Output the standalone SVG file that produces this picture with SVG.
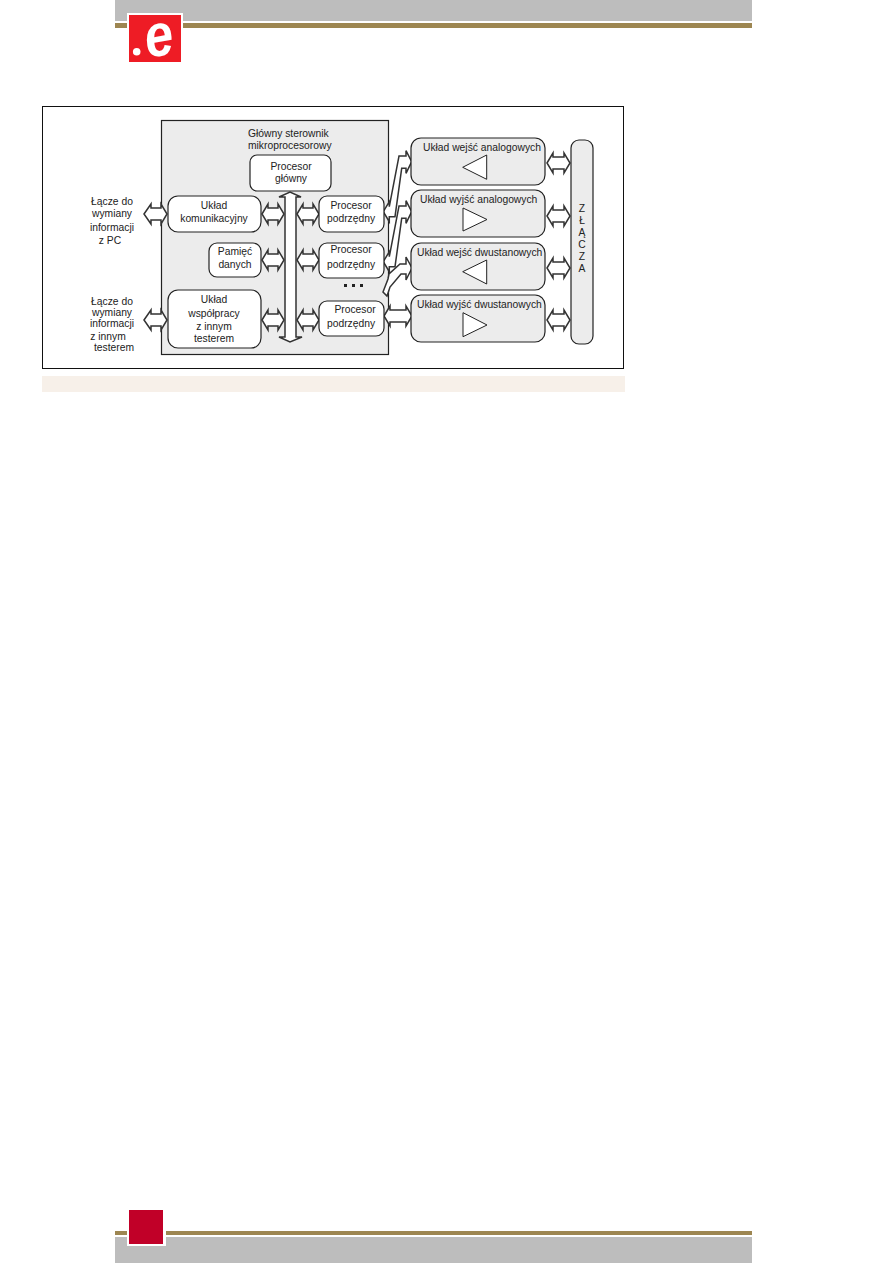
<svg xmlns="http://www.w3.org/2000/svg" width="893" height="1263" viewBox="0 0 893 1263">
<style>
text{font-family:"Liberation Sans",Arial,sans-serif;font-size:10.3px;fill:#222;text-anchor:middle}
.s{text-anchor:start}
.n{fill:#fff;stroke:#222;stroke-width:1.2}
.g{fill:#ececec;stroke:#222;stroke-width:1.2}
.a{fill:#fff;stroke:#333;stroke-width:1.5}
.t{fill:#fff;stroke:#222;stroke-width:1}
.gray{fill:#bdbdbd}.gold{fill:#9d8651}
</style>
<rect width="893" height="1263" fill="#fff"/>
<g id="header">
<rect class="gray" x="115" y="0" width="637" height="21"/>
<rect class="gold" x="115" y="23" width="637" height="5"/>
<rect x="127" y="13" width="56" height="49" fill="#fff"/>
<rect x="129" y="15" width="52" height="47" fill="#ee1c25"/>
<circle cx="136.7" cy="51.7" r="3.8" fill="#fff"/>
<text transform="translate(148,58) rotate(-10) scale(.85,1)" style="font-size:60px;font-weight:bold;font-style:italic;fill:#fff;text-anchor:start">e</text>
</g>
<g id="footer">
<rect class="gold" x="115" y="1231" width="637" height="4"/>
<rect class="gray" x="115" y="1237" width="637" height="26"/>
<rect x="127" y="1208" width="39" height="38" fill="#fff"/>
<rect x="129" y="1210" width="34" height="34" fill="#c10028"/>
</g>
<rect id="frame" x="42.5" y="106.5" width="581" height="262" fill="#fff" stroke="#111" stroke-width="1"/>
<rect id="caption-bar" x="42" y="376" width="583" height="16" fill="#f7f0e9"/>
<g id="panel">
<rect class="g" x="161.5" y="120.5" width="227" height="234"/>
<text class="s" x="248" y="137">Główny sterownik</text>
<text class="s" x="248" y="149">mikroprocesorowy</text>
</g>
<g id="connectors">
<polygon class="a" points="279,197 290,192 301,197 296,197 296,337 302,337 290,342 279,337 285,337 285,197"/>
<polygon class="a" points="144,214 151,204 151,208 161,208 161,204 167,214 161,224 161,220 151,220 151,224"/>
<polygon class="a" points="262,214 268,204 268,208 278,208 278,204 284,214 278,224 278,220 268,220 268,224"/>
<polygon class="a" points="297,214 303,204 303,208 313,208 313,204 319,214 313,224 313,220 303,220 303,224"/>
<polygon class="a" points="262,260 268,250 268,254 278,254 278,250 284,260 278,270 278,266 268,266 268,270"/>
<polygon class="a" points="297,260 303,250 303,254 313,254 313,250 319,260 313,270 313,266 303,266 303,270"/>
<polygon class="a" points="144,320 151,310 151,314 161,314 161,310 167,320 161,330 161,326 151,326 151,330"/>
<polygon class="a" points="262,320 268,310 268,314 278,314 278,310 284,320 278,330 278,326 268,326 268,330"/>
<polygon class="a" points="297,320 303,310 303,314 313,314 313,310 319,320 313,330 313,326 303,326 303,330"/>
<polygon class="a" points="384,316 390,306 390,310 406,310 406,306 412,316 406,326 406,322 390,322 390,326"/>
<polygon class="a" points="547,163 553,153 553,157 564,157 564,153 570,163 564,173 564,169 553,169 553,173"/>
<polygon class="a" points="547,216 553,206 553,210 564,210 564,206 570,216 564,226 564,222 553,222 553,226"/>
<polygon class="a" points="547,268 553,258 553,262 564,262 564,258 570,268 564,278 564,274 553,274 553,278"/>
<polygon class="a" points="547,320 553,310 553,314 564,314 564,310 570,320 564,330 564,326 553,326 553,330"/>
<polygon class="a" points="383.3,211.7 389.3,201.7 389.3,206.7 399,156 406,156 406,150.7 411.7,161.7 406,173.3 406,168.3 401.7,168.3 395,216.7 389.3,216.7 389.3,221.7"/>
<polygon class="a" points="383.3,261.7 389.3,251.7 389.3,256.7 399,206 406,206 406,200.7 411.7,211.7 406,223.3 406,218.3 401.7,218.3 395,266.7 389.3,266.7 389.3,271.7"/>
<polygon class="a" points="383,292 388,279 389,274 400,264 406,264 406,257 412,268 406,280 406,274 401,274 390,287 387,296"/>
</g>
<g id="procesor-glowny"><rect class="n" x="250" y="155" width="81" height="36" rx="7"/><text x="291" y="170">Procesor</text><text x="291" y="182">główny</text></g>
<g id="uklad-komunikacyjny"><rect class="n" x="168" y="196" width="93" height="36" rx="10"/><text x="214" y="209">Układ</text><text x="214" y="222">komunikacyjny</text></g>
<g id="procesor-1"><rect class="n" x="319" y="196" width="65" height="36" rx="8"/><text x="351" y="209">Procesor</text><text x="351" y="222">podrzędny</text></g>
<g id="pamiec"><rect class="n" x="209" y="243" width="52" height="34" rx="8"/><text x="235" y="255">Pamięć</text><text x="235" y="268">danych</text></g>
<g id="procesor-2"><rect class="n" x="319" y="243" width="65" height="35" rx="8"/><text x="351" y="253">Procesor</text><text x="351" y="268">podrzędny</text></g>
<g id="uklad-wspolpracy"><rect class="n" x="168" y="290" width="93" height="58" rx="10"/><text x="214" y="303">Układ</text><text x="214" y="317">współpracy</text><text x="214" y="330">z innym</text><text x="214" y="342">testerem</text></g>
<g id="procesor-3"><rect class="n" x="319" y="301" width="65" height="35" rx="8"/><text x="355" y="313">Procesor</text><text x="351" y="327">podrzędny</text></g>
<g id="dots" fill="#222"><rect x="344" y="284" width="3" height="3"/><rect x="352" y="284" width="3" height="3"/><rect x="360" y="284" width="3" height="3"/></g>
<g id="wej-analog"><rect class="g" x="411" y="138" width="134" height="47" rx="10"/><text class="s" x="423" y="151">Układ wejść analogowych</text><polygon class="t" points="462.7,167.3 486.7,155 486.7,179.3"/></g>
<g id="wyj-analog"><rect class="g" x="411" y="190" width="134" height="47" rx="10"/><text class="s" x="420" y="203">Układ wyjść analogowych</text><polygon class="t" points="463,208 463,231 487,219.5"/></g>
<g id="wej-dwustan"><rect class="g" x="411" y="243" width="134" height="47" rx="10"/><text class="s" x="417" y="256">Układ wejść dwustanowych</text><polygon class="t" points="462.7,271.7 486.7,260 486.7,284"/></g>
<g id="wyj-dwustan"><rect class="g" x="411" y="295" width="134" height="47" rx="10"/><text class="s" x="417" y="308">Układ wyjść dwustanowych</text><polygon class="t" points="463,312.7 463,336.7 487,325"/></g>
<g id="zlacza"><rect class="g" x="571" y="140" width="22" height="204" rx="8"/><text x="582" y="212">Z</text><text x="582" y="224">Ł</text><text x="582" y="236">Ą</text><text x="582" y="248">C</text><text x="582" y="260">Z</text><text x="582" y="272">A</text></g>
<g id="label-pc"><text x="112" y="205">Łącze do</text><text x="112" y="217">wymiany</text><text x="112" y="231">informacji</text><text x="110" y="244">z PC</text></g>
<g id="label-tester"><text x="112" y="305">Łącze do</text><text x="112" y="316">wymiany</text><text x="112" y="327">informacji</text><text x="108" y="340">z innym</text><text x="114" y="351">testerem</text></g>
</svg>
